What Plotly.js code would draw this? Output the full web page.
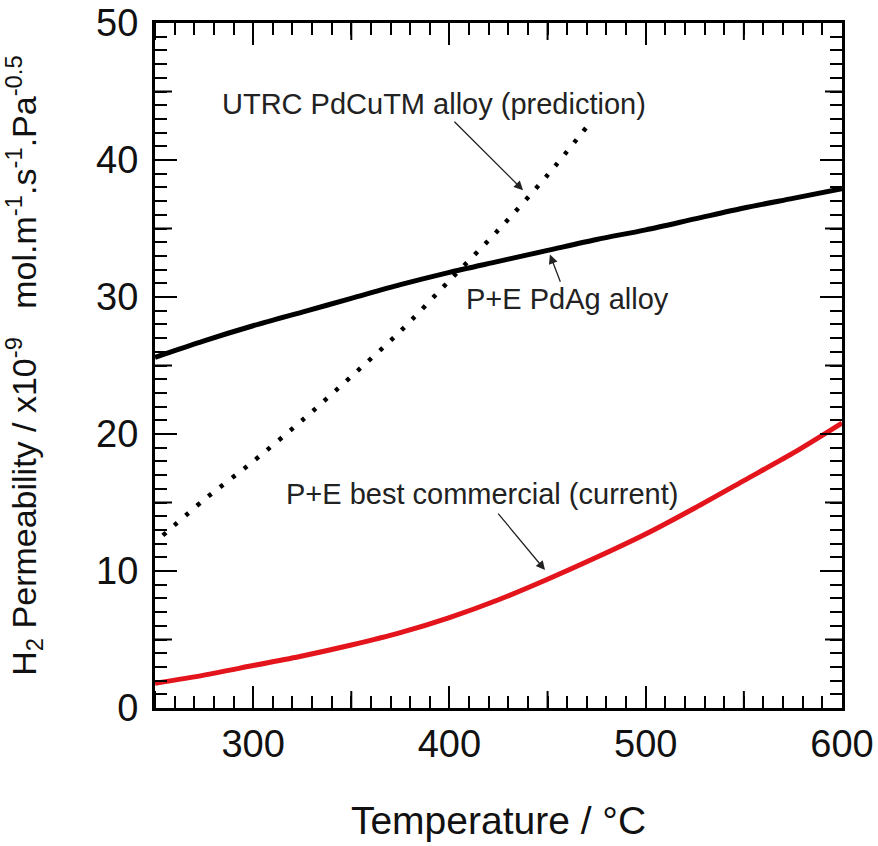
<!DOCTYPE html>
<html>
<head>
<meta charset="utf-8">
<script src="https://cdn.plot.ly/plotly-3.0.1.min.js"></script>
<style>html,body{margin:0;padding:0;background:#fff;}#chart{width:878px;height:846px;}</style>
</head>
<body>
<div id="chart"></div>
<script>
// Temperatures (°C) and H2 permeability (x1e-9 mol m-1 s-1 Pa-0.5)
var tempPdAg = [250, 275, 300, 325, 350, 375, 400, 425, 450, 475, 500, 525, 550, 575, 600];
var permPdAg = [25.6, 26.8, 27.9, 28.9, 29.9, 30.9, 31.8, 32.6, 33.4, 34.2, 34.9, 35.7, 36.5, 37.2, 37.9];

var tempCommercial = [250, 275, 300, 325, 350, 375, 400, 425, 450, 475, 500, 525, 550, 575, 600];
var permCommercial = [1.8, 2.4, 3.1, 3.8, 4.6, 5.5, 6.6, 7.9, 9.4, 11.0, 12.7, 14.6, 16.6, 18.6, 20.8];

var tempPdCuTM = [254, 275, 300, 325, 350, 375, 400, 425, 450, 471];
var permPdCuTM = [12.6, 15.2, 18.0, 21.0, 24.2, 27.5, 31.2, 34.9, 38.9, 42.6];

var labelPdCuTM = "UTRC PdCuTM alloy (prediction)";
var labelPdAg = "P+E PdAg alloy";
var labelCommercial = "P+E best commercial (current)";

var xTitle = "Temperature / °C";
var yTitle = "H<sub>2</sub> Permeability / x10<sup>-9</sup>\u00a0\u00a0 mol.m<sup>-1</sup>.s<sup>-1</sup>.Pa<sup>-0.5</sup>";

var xRange = [250, 600];
var yRange = [0, 50];
// intermediate (half-major) tick values
var xMidTicks = [250, 350, 450, 550];
var yMidTicks = [5, 15, 25, 35, 45];

var FONT = "Liberation Sans, Arial, Helvetica, sans-serif";

var traces = [
  {x: tempPdAg, y: permPdAg, mode: "lines", line: {color: "#000000", width: 5, shape: "spline", smoothing: 0.8}, hoverinfo: "skip"},
  {x: tempCommercial, y: permCommercial, mode: "lines", line: {color: "#e3141b", width: 5, shape: "spline", smoothing: 0.8}, hoverinfo: "skip"},
  {x: tempPdCuTM, y: permPdCuTM, mode: "lines", line: {color: "#000000", width: 4.5, dash: "4px,11px", shape: "spline", smoothing: 0.8}, hoverinfo: "skip"}
];

var tickFont = {family: FONT, size: 38, color: "#111"};
var MID_LEN = 17;

var shapes = [];
xMidTicks.forEach(function (v) {
  shapes.push({type: "line", xref: "x", yref: "paper", ysizemode: "pixel", yanchor: 0,
    x0: v, x1: v, y0: 0, y1: MID_LEN, line: {color: "#000", width: 2}, layer: "above"});
  shapes.push({type: "line", xref: "x", yref: "paper", ysizemode: "pixel", yanchor: 1,
    x0: v, x1: v, y0: 0, y1: -MID_LEN, line: {color: "#000", width: 2}, layer: "above"});
});
yMidTicks.forEach(function (v) {
  shapes.push({type: "line", yref: "y", xref: "paper", xsizemode: "pixel", xanchor: 0,
    y0: v, y1: v, x0: 0, x1: MID_LEN, line: {color: "#000", width: 2}, layer: "above"});
  shapes.push({type: "line", yref: "y", xref: "paper", xsizemode: "pixel", xanchor: 1,
    y0: v, y1: v, x0: 0, x1: -MID_LEN, line: {color: "#000", width: 2}, layer: "above"});
});

var layout = {
  width: 878, height: 846,
  margin: {l: 155, r: 36, t: 23, b: 138},
  paper_bgcolor: "#fff", plot_bgcolor: "#fff",
  showlegend: false,
  font: {family: FONT, color: "#111"},
  xaxis: {
    range: xRange, tickmode: "linear", tick0: 0, dtick: 100,
    ticks: "inside", ticklen: 22, tickwidth: 2, tickcolor: "#000",
    showline: true, linewidth: 3, linecolor: "#000", mirror: "allticks",
    showgrid: false, zeroline: false,
    tickfont: tickFont, ticklabelstandoff: 0,
    minor: {tickmode: "linear", tick0: 0, dtick: 10, ticks: "inside", ticklen: 12, tickwidth: 2, tickcolor: "#000", showgrid: false},
    title: {text: xTitle, font: {family: FONT, size: 39, color: "#111"}, standoff: 44}
  },
  yaxis: {
    range: yRange, tickmode: "linear", tick0: 0, dtick: 10,
    ticks: "inside", ticklen: 22, tickwidth: 2, tickcolor: "#000",
    showline: true, linewidth: 3, linecolor: "#000", mirror: "allticks",
    showgrid: false, zeroline: false,
    tickfont: tickFont, ticklabelstandoff: 6,
    minor: {tickmode: "linear", tick0: 0, dtick: 1, ticks: "inside", ticklen: 12, tickwidth: 2, tickcolor: "#000", showgrid: false},
    title: {text: yTitle, font: {family: FONT, size: 34, color: "#111"}, standoff: 50}
  },
  shapes: shapes,
  annotations: [
    {x: 392.1, y: 44.1, xref: "x", yref: "y", text: labelPdCuTM, showarrow: false,
     font: {family: FONT, size: 29, color: "#222"}},
    {x: 459.9, y: 29.85, xref: "x", yref: "y", text: labelPdAg, showarrow: false,
     font: {family: FONT, size: 29, color: "#222"}},
    {x: 416.6, y: 15.6, xref: "x", yref: "y", text: labelCommercial, showarrow: false,
     font: {family: FONT, size: 29, color: "#222"}},
    {x: 437.5, y: 37.8, ax: 401.8, ay: 42.9, xref: "x", yref: "y", axref: "x", ayref: "y",
     text: "", showarrow: true, arrowhead: 2, arrowsize: 1.4, arrowwidth: 1.3, arrowcolor: "#222"},
    {x: 451.2, y: 33.1, ax: 456.8, ay: 31.0, xref: "x", yref: "y", axref: "x", ayref: "y",
     text: "", showarrow: true, arrowhead: 2, arrowsize: 1.4, arrowwidth: 1.3, arrowcolor: "#222"},
    {x: 448.7, y: 10.07, ax: 424.2, ay: 14.3, xref: "x", yref: "y", axref: "x", ayref: "y",
     text: "", showarrow: true, arrowhead: 2, arrowsize: 1.4, arrowwidth: 1.3, arrowcolor: "#222"}
  ]
};

Plotly.newPlot("chart", traces, layout, {staticPlot: true, displayModeBar: false});
</script>
</body>
</html>
